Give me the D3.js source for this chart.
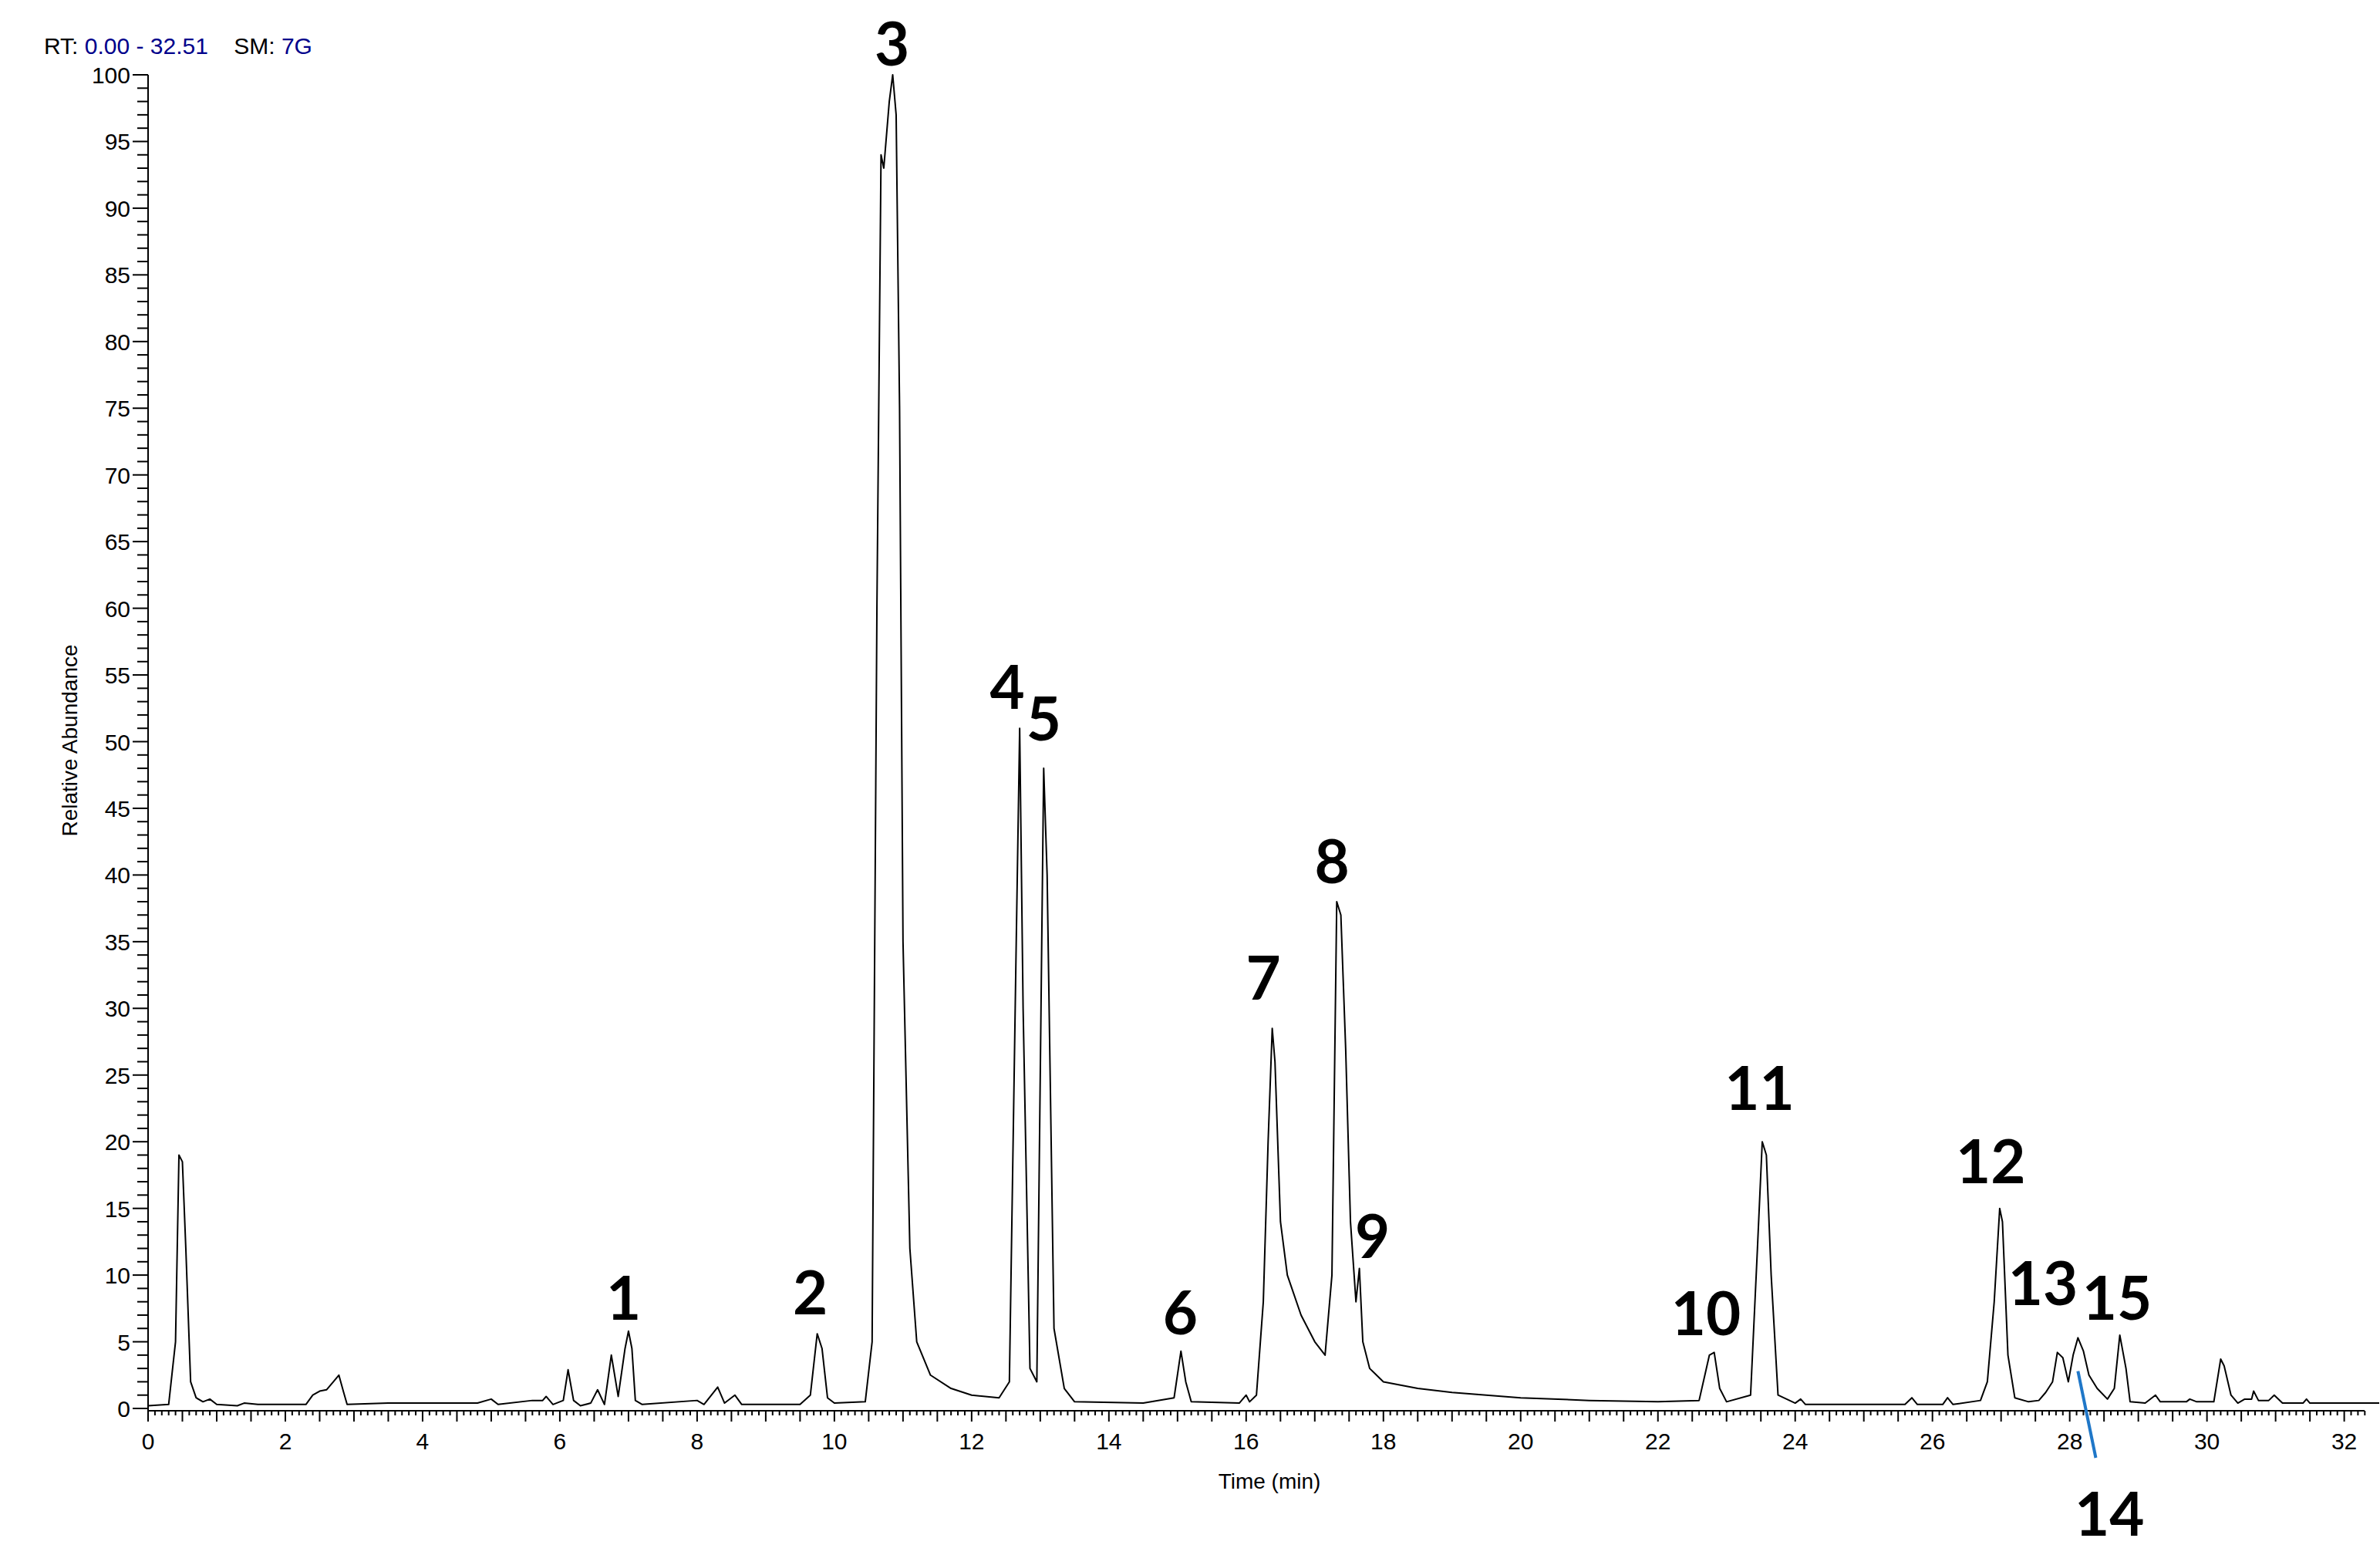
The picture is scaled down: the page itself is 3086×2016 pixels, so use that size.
<!DOCTYPE html>
<html><head><meta charset="utf-8">
<script src="https://cdn.jsdelivr.net/npm/d3@7"></script>
<style>body{margin:0;background:#fff}svg{display:block}</style>
</head><body>
<script>
const times = [0,0.3,0.4,0.45,0.5,0.55,0.62,0.7,0.8,0.9,1.0,1.3,1.4,1.6,2.3,2.4,2.5,2.6,2.7,2.78,2.85,2.9,3.5,4.8,5.0,5.1,5.6,5.75,5.8,5.9,6.05,6.12,6.2,6.3,6.45,6.55,6.65,6.75,6.85,6.95,7.0,7.05,7.1,7.2,8.0,8.1,8.3,8.4,8.55,8.65,9.5,9.65,9.75,9.82,9.9,10.0,10.45,10.55,10.62,10.68,10.72,10.8,10.85,10.9,10.95,11.0,11.1,11.2,11.4,11.7,12.0,12.4,12.55,12.65,12.7,12.75,12.85,12.95,13.05,13.1,13.2,13.35,13.5,14.5,14.95,15.05,15.12,15.2,15.9,16.0,16.05,16.15,16.25,16.32,16.38,16.42,16.5,16.6,16.8,17.0,17.15,17.25,17.32,17.38,17.45,17.52,17.6,17.65,17.7,17.8,18.0,18.5,19.0,20.0,21.0,22.0,22.6,22.75,22.82,22.9,23.0,23.35,23.45,23.52,23.58,23.65,23.75,24.0,24.08,24.15,25.6,25.7,25.78,26.15,26.22,26.3,26.7,26.8,26.9,26.98,27.02,27.1,27.2,27.4,27.55,27.65,27.75,27.82,27.9,27.98,28.05,28.12,28.2,28.28,28.4,28.55,28.65,28.73,28.82,28.88,29.1,29.25,29.32,29.7,29.75,29.85,30.1,30.2,30.25,30.35,30.45,30.55,30.65,30.68,30.75,30.9,30.98,31.1,31.4,31.45,31.5,32.51];
const abundance = [0.2,0.3,5,19,18.5,12,2,0.8,0.5,0.7,0.3,0.2,0.4,0.3,0.3,1.0,1.3,1.4,2.0,2.5,1.2,0.3,0.4,0.4,0.7,0.3,0.6,0.6,0.9,0.3,0.6,2.9,0.6,0.2,0.4,1.4,0.3,4.0,0.9,4.5,5.8,4.5,0.6,0.3,0.6,0.3,1.6,0.4,1.0,0.3,0.3,1.0,5.6,4.5,0.8,0.4,0.5,5,60,94,93,98,100,97,75,35,12,5,2.5,1.5,1.0,0.8,2,35,51,30,3,2,48,40,6,1.5,0.5,0.4,0.8,4.3,2,0.5,0.4,1.0,0.5,1,8,20,28.5,26,14,10,7,5,4,10,38,37,27,14,8,10.5,5,3,2,1.5,1.2,0.8,0.6,0.5,0.6,4,4.2,1.5,0.5,1,12,20,19,10,1,0.4,0.7,0.3,0.3,0.8,0.3,0.3,0.8,0.3,0.6,2,8,15,14,4,0.8,0.5,0.6,1.2,2,4.2,3.8,2.0,4,5.3,4.3,2.5,1.5,0.7,1.5,5.5,3,0.5,0.4,1.0,0.5,0.5,0.7,0.5,0.5,3.7,3.2,1,0.4,0.7,0.7,1.3,0.6,0.6,1.0,0.4,0.4,0.7,0.4,0.4];
const peakNames = ["1","2","3","4","5","6","7","8","9","10","11","12","13","14","15"];
const peakLabelT = [6.93,9.65,10.84,12.52,13.05,15.04,16.25,17.25,17.84,22.70,23.48,26.85,27.61,28.58,28.69];
const peakLabelV = [8.3,8.7,102.3,54.1,51.7,7.2,32.3,41.0,12.9,7.1,24.0,18.5,9.4,-7.9,8.3];
const leaderT = [28.12,28.38];
const leaderV = [2.8,-3.7];
const xTickLabels = d3.range(0,33,2);
const yTickLabels = d3.range(0,101,5);

const W=3086,H=2016;
const svg=d3.select("body").append("svg").attr("width",W).attr("height",H);
const x=d3.scaleLinear().domain([0,32.51]).range([192,3085]);
const y=d3.scaleLinear().domain([0,100]).range([1826,97]);
const font="'Liberation Sans', Arial, sans-serif";

// x axis
const xg=svg.append("g").attr("transform","translate(0,1829)");
xg.append("line").attr("x1",x(0)).attr("x2",3066).attr("stroke","#000").attr("stroke-width",2);
const minor=d3.range(0,32.4,0.1).map(v=>Math.round(v*10)/10);
xg.selectAll("line.t").data(minor).join("line").attr("class","t")
 .attr("x1",d=>x(d)).attr("x2",d=>x(d)).attr("y1",0)
 .attr("y2",d=>(Math.round(d*10)%5===0)?14:6).attr("stroke","#000").attr("stroke-width",2);
xg.selectAll("text").data(xTickLabels).join("text").attr("x",d=>x(d)).attr("y",50)
 .attr("text-anchor","middle").attr("font-family",font).attr("font-size",30).text(d=>d);
svg.append("text").attr("x",1646).attr("y",1930).attr("text-anchor","middle")
 .attr("font-family",font).attr("font-size",28).text("Time (min)");

// y axis
const yg=svg.append("g");
yg.append("line").attr("x1",x(0)).attr("x2",x(0)).attr("y1",y(100)).attr("y2",1829).attr("stroke","#000").attr("stroke-width",2);
yg.selectAll("line.t").data(d3.range(0,101,1)).join("line").attr("class","t")
 .attr("x1",d=>x(0)-(d%5===0?20:14)).attr("x2",x(0)).attr("y1",d=>y(d)).attr("y2",d=>y(d))
 .attr("stroke","#000").attr("stroke-width",2);
yg.selectAll("text").data(yTickLabels).join("text").attr("x",169).attr("y",d=>y(d)+11)
 .attr("text-anchor","end").attr("font-family",font).attr("font-size",30).text(d=>d);
svg.append("text").attr("transform","translate(100,960) rotate(-90)").attr("text-anchor","middle")
 .attr("font-family",font).attr("font-size",28).text("Relative Abundance");

// header
const hdr=svg.append("text").attr("x",57).attr("y",70).attr("font-family",font).attr("font-size",30);
hdr.append("tspan").attr("fill","#000").text("RT: ");
hdr.append("tspan").attr("fill","#00008b").text("0.00 - 32.51");
hdr.append("tspan").attr("fill","#000").text("    SM: ");
hdr.append("tspan").attr("fill","#00008b").text("7G");
hdr.attr("xml:space","preserve").style("white-space","pre");

// trace
const pts=times.map((t,i)=>[t,abundance[i]]);
svg.append("path").datum(pts).attr("fill","none").attr("stroke","#000").attr("stroke-width",2)
 .attr("stroke-linejoin","round").attr("d",d3.line().x(d=>x(d[0])).y(d=>y(d[1])));

// leader line
svg.append("line").attr("x1",x(leaderT[0])).attr("y1",y(leaderV[0])).attr("x2",x(leaderT[1])).attr("y2",y(leaderV[1]))
 .attr("stroke","#1f77c8").attr("stroke-width",4);

// peak labels
svg.selectAll("text.pk").data(peakNames).join("text").attr("class","pk")
 .attr("x",(d,i)=>x(peakLabelT[i])).attr("y",(d,i)=>y(peakLabelV[i])).attr("dy","0.36em")
 .attr("text-anchor","middle").attr("font-family","Lato, 'Open Sans', sans-serif").attr("font-weight","bold")
 .attr("font-size",78).text(d=>d);
</script>
</body></html>
